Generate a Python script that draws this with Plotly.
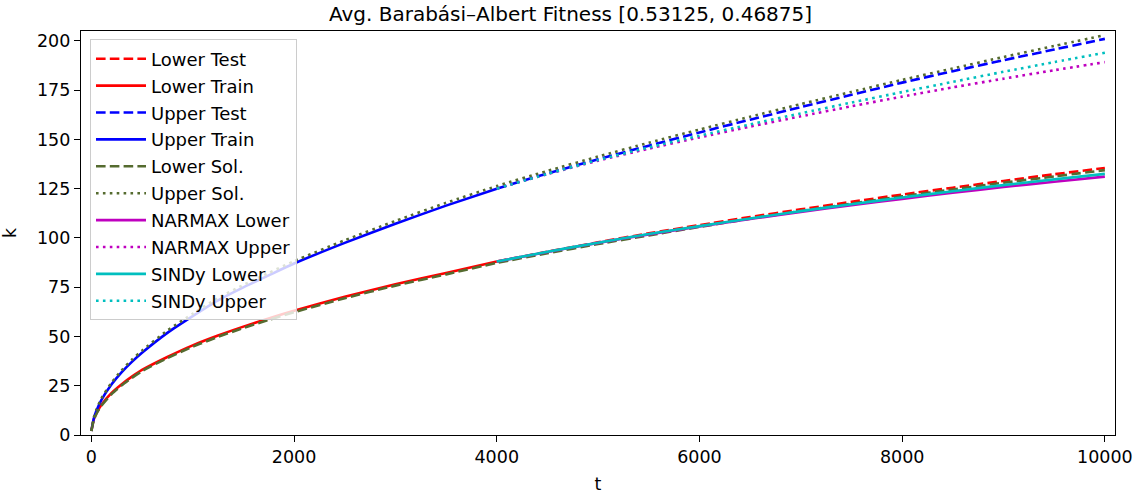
import plotly.graph_objects as go

# ---- data ----
t_train = [0, 25, 50, 100, 200, 300, 400, 500, 750, 1000, 1250, 1500, 1750,
           2000, 2500, 3000, 3500, 4000]
t_test = [4000, 4500, 5000, 5500, 6000, 6500, 7000, 7500, 8000, 8500, 9000,
          9500, 10000]
t_all = t_train + t_test[1:]

lower_train = [2.0, 8.0, 11.1, 15.4, 21.4, 25.8, 29.6, 33.0, 39.6, 45.5, 50.5,
               55.0, 59.1, 63.0, 70.1, 76.5, 82.2, 88.0]
upper_train = [2.0, 8.5, 12.3, 17.8, 25.7, 31.9, 37.1, 41.7, 51.8, 60.3, 68.3,
               74.9, 81.0, 87.0, 97.5, 107.2, 116.4, 125.0]

lower_test = [88.0, 93.0, 97.8, 102.3, 106.5, 110.6, 114.5, 118.3, 122.0,
              125.5, 128.9, 132.3, 135.5]
upper_test = [125.0, 132.7, 139.9, 146.8, 153.5, 160.0, 166.4, 172.6, 178.8,
              184.6, 190.2, 195.6, 201.0]

lower_sol = [2.0, 7.6, 10.7, 14.9, 20.8, 25.2, 29.0, 32.4, 39.0, 44.8, 49.8,
             54.3, 58.4, 62.3, 69.4, 75.8, 81.5, 87.3,
             92.2, 96.9, 101.3, 105.6, 109.7, 113.6, 117.4, 121.1, 124.6,
             128.0, 131.2, 134.4]
upper_sol = [2.0, 9.0, 12.9, 18.6, 26.6, 32.9, 38.2, 42.8, 53.0, 61.5, 69.5,
             76.1, 82.2, 88.2, 98.8, 108.6, 117.8, 126.3,
             134.0, 141.3, 148.3, 155.0, 161.5, 167.9, 174.1, 180.2, 186.0,
             191.8, 197.4, 202.9]

narmax_lower = [88.0, 92.9, 97.5, 101.8, 105.8, 109.6, 113.2, 116.6, 119.8,
                122.9, 125.8, 128.5, 131.1]
narmax_upper = [125.0, 132.4, 139.2, 145.3, 151.0, 156.5, 161.7, 166.8,
                171.7, 176.4, 180.8, 185.1, 189.2]
sindy_lower = [88.0, 93.0, 97.6, 102.0, 106.0, 109.9, 113.6, 117.1, 120.5,
               123.7, 126.8, 129.7, 132.5]
sindy_upper = [125.0, 132.5, 139.5, 145.9, 151.9, 157.6, 163.2, 168.7, 174.0,
               179.2, 184.3, 189.2, 194.0]

x_ticks = [0, 2000, 4000, 6000, 8000, 10000]
y_ticks = [0, 25, 50, 75, 100, 125, 150, 175, 200]

title = "Avg. Barabási–Albert Fitness [0.53125, 0.46875]"

RED, BLUE, OLIVE, MAG, CYAN = "#ff0000", "#0000ff", "#556b2f", "#bf00bf", "#00bfbf"
LW = 2.6
DASH = "9.6px,4.2px"
DOT = "2.6px,4.3px"

series = [
    ("Lower Test", t_test, lower_test, RED, DASH),
    ("Lower Train", t_train, lower_train, RED, "solid"),
    ("Upper Test", t_test, upper_test, BLUE, DASH),
    ("Upper Train", t_train, upper_train, BLUE, "solid"),
    ("Lower Sol.", t_all, lower_sol, OLIVE, DASH),
    ("Upper Sol.", t_all, upper_sol, OLIVE, DOT),
    ("NARMAX Lower", t_test, narmax_lower, MAG, "solid"),
    ("NARMAX Upper", t_test, narmax_upper, MAG, DOT),
    ("SINDy Lower", t_test, sindy_lower, CYAN, "solid"),
    ("SINDy Upper", t_test, sindy_upper, CYAN, DOT),
]

fig = go.Figure()
for i, (name, xs, ys, col, dash) in enumerate(series):
    fig.add_trace(go.Scatter(
        x=xs, y=ys, name=name, mode="lines", legendgroup=f"g{i}",
        line=dict(color=col, width=LW, dash=dash, shape="spline", smoothing=0.6),
    ))

FONT = "DejaVu Sans"
fig.update_layout(
    width=1141, height=494,
    margin=dict(l=81, r=26, t=31, b=59, autoexpand=False),
    paper_bgcolor="white", plot_bgcolor="white",
    font=dict(family=FONT, size=17, color="black"),
    title=dict(text=title, x=0.5, xanchor="center", y=0.972, yanchor="middle",
               font=dict(family=FONT, size=20, color="black")),
    showlegend=True,
    legend=dict(x=0.0087, y=0.979, xanchor="left", yanchor="top",
                bgcolor="rgba(255,255,255,0.8)", bordercolor="#cccccc",
                borderwidth=1, font=dict(family=FONT, size=18),
                traceorder="grouped", tracegroupgap=0.5, itemwidth=50),
    xaxis=dict(range=[-102, 10100], tickvals=x_ticks,
               ticktext=[str(v) for v in x_ticks],
               showgrid=False, zeroline=False, showline=True, mirror=True,
               linecolor="black", linewidth=1.4, ticks="outside", ticklen=6,
               tickcolor="black", tickwidth=1.4, tickfont=dict(size=17.5),
               title=dict(text="t", font=dict(family=FONT, size=17.5), standoff=12)),
    yaxis=dict(range=[0, 205], tickvals=y_ticks,
               ticktext=[str(v) for v in y_ticks],
               showgrid=False, zeroline=False, showline=True, mirror=True,
               linecolor="black", linewidth=1.4, ticks="outside", ticklen=6,
               tickcolor="black", tickwidth=1.4, tickfont=dict(size=17.5),
               title=dict(text="k", font=dict(family=FONT, size=17.5), standoff=15)),
)

fig.write_html("out.html", config={"displayModeBar": False},
               post_script="document.body.style.margin='0';document.body.style.padding='0';")
